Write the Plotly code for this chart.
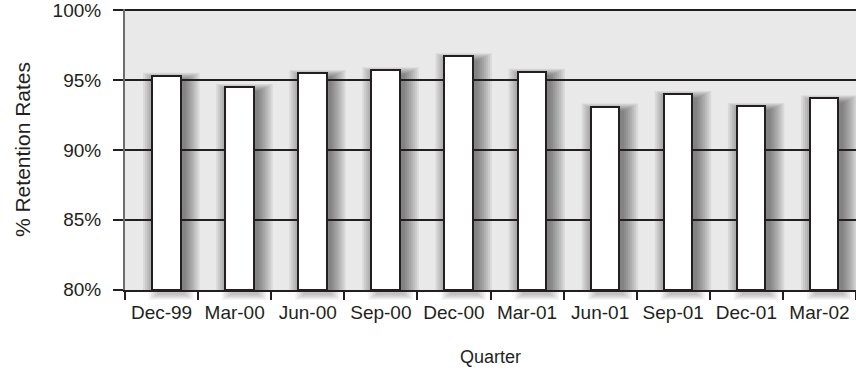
import plotly.graph_objects as go

quarters = ["Dec-99", "Mar-00", "Jun-00", "Sep-00", "Dec-00",
            "Mar-01", "Jun-01", "Sep-01", "Dec-01", "Mar-02"]
retention = [95.3, 94.5, 95.5, 95.7, 96.7, 95.6, 93.1, 94.0, 93.15, 93.7]
y_ticks = [80, 85, 90, 95, 100]
y_tick_labels = ["80%", "85%", "90%", "95%", "100%"]

BAR_W = 0.39
BAR_OFF = -0.13

W, H = 856, 371
M = dict(l=125, r=0, t=7, b=81)
y_lo, y_hi = y_ticks[0] - 0.02, y_ticks[-1] + 0.08
plot_h = H - M["t"] - M["b"]
px_x = len(quarters) / (W - M["l"] - M["r"])          # category units per pixel
px_y = (y_hi - y_lo) / plot_h                          # value units per pixel

fig = go.Figure()

# soft drop shadows, derived from the data
shapes = []
for i, v in enumerate(retention):
    x0 = i + BAR_OFF + 5 * px_x
    x1 = i + BAR_OFF + BAR_W + 5 * px_x
    ytop = v - 4 * px_y
    for r in [0, 2, 4, 6, 8, 10, 12, 14]:
        shapes.append(dict(
            type="rect", xref="x", yref="y", layer="below",
            x0=x0 - r * px_x, x1=x1 + r * px_x,
            y0=y_lo - (4 + r * 0.6) * px_y, y1=ytop + r * 0.5 * px_y,
            line=dict(width=0), fillcolor="rgba(0,0,0,0.065)",
        ))
    # shadow spilling below the axis
    for r in [0, 2, 4, 6, 8]:
        shapes.append(dict(
            type="rect", xref="x", yref="paper", layer="below",
            x0=x0 - r * px_x, x1=x1 + r * px_x,
            y0=-(5 + r * 0.6) / plot_h, y1=0,
            line=dict(width=0), fillcolor="rgba(0,0,0,0.05)",
        ))

fig.add_trace(go.Bar(
    x=quarters, y=[v - y_ticks[0] for v in retention], base=y_ticks[0],
    width=BAR_W, offset=BAR_OFF,
    marker=dict(color="white", line=dict(color="#231f20", width=2)),
    hoverinfo="skip", showlegend=False,
))

font = dict(family="Liberation Sans, Arial, sans-serif", size=19, color="#231f20")

fig.update_layout(
    width=W, height=H, margin=M,
    paper_bgcolor="white", plot_bgcolor="#e9e9ea",
    font=font, shapes=shapes, bargap=0,
    xaxis=dict(
        type="category", range=[-0.5, len(quarters) - 0.5],
        tickson="boundaries", ticks="outside", ticklen=8, tickwidth=2,
        tickcolor="#231f20", showgrid=False, showline=True,
        linecolor="#231f20", linewidth=2, ticklabelstandoff=4,
        title=dict(text="Quarter", standoff=29, font=dict(size=18)),
        tickfont=dict(size=19), ticklabeloverflow="allow",
    ),
    yaxis=dict(
        range=[y_lo, y_hi], tickvals=y_ticks, ticktext=y_tick_labels,
        ticks="outside", ticklen=10, tickwidth=2, tickcolor="#231f20",
        showgrid=True, gridcolor="#231f20", gridwidth=2,
        showline=True, linecolor="#6d6e71", linewidth=2,
        zeroline=False, ticklabelstandoff=8, ticklabeloverflow="allow",
        title=dict(text="% Retention Rates", standoff=16, font=dict(size=21)),
        tickfont=dict(size=19),
    ),
)

fig.write_html("out.html")
